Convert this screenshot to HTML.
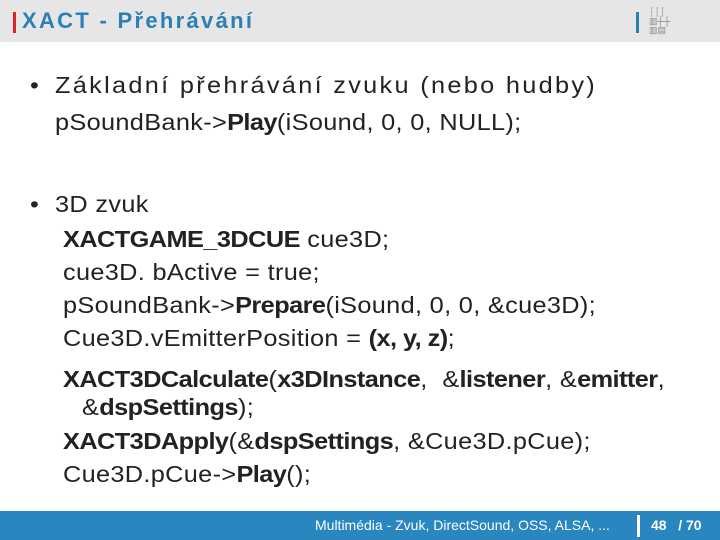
<!DOCTYPE html>
<html><head><meta charset="utf-8"><style>
body{margin:0;width:720px;height:540px;position:relative;background:#fff;font-family:"Liberation Sans",sans-serif;overflow:hidden}
.hdr{position:absolute;left:0;top:0;width:720px;height:42px;background:#e6e6e6}
.red{position:absolute;left:13px;top:12px;width:3px;height:21px;background:#d9232d}
.title{position:absolute;left:22px;top:8px;font-size:22px;font-weight:bold;color:#2a7fb5;letter-spacing:2.3px}
.bl{position:absolute;left:636px;top:12px;width:3px;height:21px;background:#2a7fb5}
.logo{position:absolute;left:649px;top:8px;width:28px;height:28px;font-size:9px;color:#888;line-height:9px}
.ftr{position:absolute;left:0;top:511px;width:720px;height:29px;background:#2a86bf}
.ft{position:absolute;top:517px;color:#fff;font-size:14px}
.sep{position:absolute;left:637px;top:515px;width:3px;height:22px;background:#fff}
.l{position:absolute;font-size:23px;color:#222;white-space:nowrap;letter-spacing:0.3px;transform:scaleX(1.1);transform-origin:0 0}
b{font-weight:bold;letter-spacing:-0.5px}
</style></head><body>
<div class="hdr"></div><div class="red"></div>
<div class="title">XACT - Přehrávání</div>
<div class="bl"></div>
<div class="logo">┆┆┆<br>▥┼┼<br>▥▤</div>
<div class="l" style="left:30px;top:72px">•</div>
<div class="l" style="left:55px;top:72px;letter-spacing:2.1px">Základní přehrávání zvuku (nebo hudby)</div>
<div class="l" style="left:55px;top:109px">pSoundBank-&gt;<b>Play</b>(iSound, 0, 0, NULL);</div>
<div class="l" style="left:30px;top:191px">•</div>
<div class="l" style="left:55px;top:191px">3D zvuk</div>
<div class="l" style="left:63px;top:226px"><b>XACTGAME_3DCUE</b> cue3D;</div>
<div class="l" style="left:63px;top:259px">cue3D. bActive = true;</div>
<div class="l" style="left:63px;top:292px">pSoundBank-&gt;<b>Prepare</b>(iSound, 0, 0, &amp;cue3D);</div>
<div class="l" style="left:63px;top:325px">Cue3D.vEmitterPosition = <b>(x, y, z)</b>;</div>
<div class="l" style="left:63px;top:366px"><b>XACT3DCalculate</b>(<b>x3DInstance</b>,&nbsp; &amp;<b>listener</b>, &amp;<b>emitter</b>,</div>
<div class="l" style="left:82px;top:394px">&amp;<b>dspSettings</b>);</div>
<div class="l" style="left:63px;top:428px"><b>XACT3DApply</b>(&amp;<b>dspSettings</b>, &amp;Cue3D.pCue);</div>
<div class="l" style="left:63px;top:461px">Cue3D.pCue-&gt;<b>Play</b>();</div>
<div class="ftr"></div>
<div class="ft" style="left:315px">Multimédia - Zvuk, DirectSound, OSS, ALSA, ...</div>
<div class="sep"></div>
<div class="ft" style="left:651px;font-weight:bold">48&nbsp;&nbsp; / 70</div>
</body></html>
